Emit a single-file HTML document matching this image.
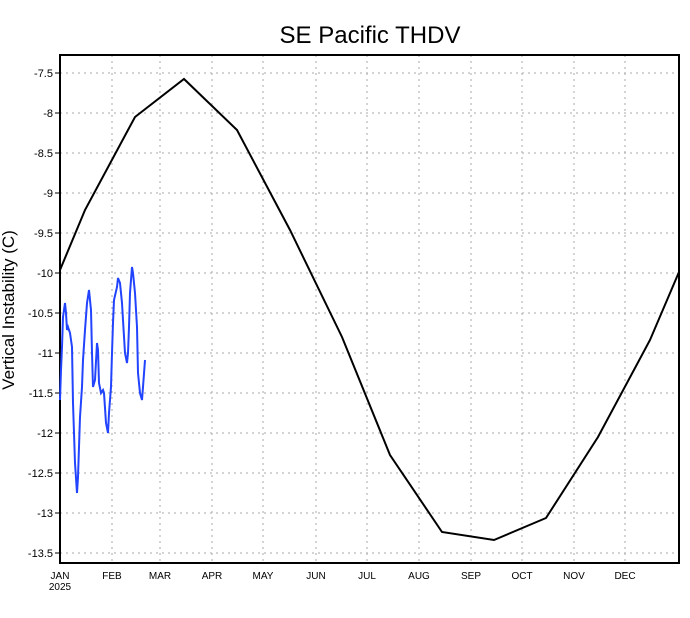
<!DOCTYPE html>
<html><head><style>body{margin:0;background:#fff}svg{display:block}</style></head><body>
<svg width="690" height="618" xmlns="http://www.w3.org/2000/svg" font-family="Liberation Sans, sans-serif">
<rect width="690" height="618" fill="#fff"/>
<text x="370" y="43" font-size="24" text-anchor="middle">SE Pacific THDV</text>
<g stroke="#aaa" stroke-width="1" stroke-dasharray="2,4">
<line x1="60" x2="679" y1="73" y2="73"/><line x1="60" x2="679" y1="113" y2="113"/><line x1="60" x2="679" y1="153" y2="153"/><line x1="60" x2="679" y1="193" y2="193"/><line x1="60" x2="679" y1="233" y2="233"/><line x1="60" x2="679" y1="273" y2="273"/><line x1="60" x2="679" y1="313" y2="313"/><line x1="60" x2="679" y1="353" y2="353"/><line x1="60" x2="679" y1="393" y2="393"/><line x1="60" x2="679" y1="433" y2="433"/><line x1="60" x2="679" y1="473" y2="473"/><line x1="60" x2="679" y1="513" y2="513"/><line x1="60" x2="679" y1="553" y2="553"/>
<line y1="55" y2="563" x1="112" x2="112"/><line y1="55" y2="563" x1="160" x2="160"/><line y1="55" y2="563" x1="212" x2="212"/><line y1="55" y2="563" x1="263" x2="263"/><line y1="55" y2="563" x1="316" x2="316"/><line y1="55" y2="563" x1="367" x2="367"/><line y1="55" y2="563" x1="419" x2="419"/><line y1="55" y2="563" x1="471" x2="471"/><line y1="55" y2="563" x1="522" x2="522"/><line y1="55" y2="563" x1="574" x2="574"/><line y1="55" y2="563" x1="625" x2="625"/>
</g>
<rect x="60" y="55" width="619" height="508" fill="none" stroke="#000" stroke-width="2"/>
<g stroke="#000" stroke-width="1">
<line x1="55" x2="60" y1="73" y2="73"/><line x1="55" x2="60" y1="113" y2="113"/><line x1="55" x2="60" y1="153" y2="153"/><line x1="55" x2="60" y1="193" y2="193"/><line x1="55" x2="60" y1="233" y2="233"/><line x1="55" x2="60" y1="273" y2="273"/><line x1="55" x2="60" y1="313" y2="313"/><line x1="55" x2="60" y1="353" y2="353"/><line x1="55" x2="60" y1="393" y2="393"/><line x1="55" x2="60" y1="433" y2="433"/><line x1="55" x2="60" y1="473" y2="473"/><line x1="55" x2="60" y1="513" y2="513"/><line x1="55" x2="60" y1="553" y2="553"/>
</g>
<g font-size="11" text-anchor="end">
<text x="53" y="77">-7.5</text><text x="53" y="117">-8</text><text x="53" y="157">-8.5</text><text x="53" y="197">-9</text><text x="53" y="237">-9.5</text><text x="53" y="277">-10</text><text x="53" y="317">-10.5</text><text x="53" y="357">-11</text><text x="53" y="397">-11.5</text><text x="53" y="437">-12</text><text x="53" y="477">-12.5</text><text x="53" y="517">-13</text><text x="53" y="557">-13.5</text>
</g>
<g font-size="10" text-anchor="middle">
<text x="60" y="579">JAN</text><text x="60" y="590">2025</text><text x="112" y="579">FEB</text><text x="160" y="579">MAR</text><text x="212" y="579">APR</text><text x="263" y="579">MAY</text><text x="316" y="579">JUN</text><text x="367" y="579">JUL</text><text x="419" y="579">AUG</text><text x="471" y="579">SEP</text><text x="522" y="579">OCT</text><text x="574" y="579">NOV</text><text x="625" y="579">DEC</text>
</g>
<text transform="translate(14,310) rotate(-90)" font-size="17" text-anchor="middle">Vertical Instability (C)</text>
<polyline fill="none" stroke="#000" stroke-width="2" points="60,270 85,210 135,117 184,79 237,130 290,230 342,337 390,455 442,532 494,540 546,518 598,437 650,340 679,272"/>
<polyline fill="none" stroke="#2244ff" stroke-width="2" points="60,400 61,370 62,347 63,317 65,303 66,313 67,330 68,327 70,333 72,347 73,403 74,433 75,463 77,493 78,477 79,447 80,417 82,387 83,360 85,330 87,303 89,290 91,310 92,353 93,387 95,380 97,343 98,350 99,383 101,393 103,390 104,393 106,423 108,433 109,413 111,387 112,353 113,323 114,300 117,287 118,278 120,283 122,303 123,320 125,353 127,363 128,353 129,327 130,293 132,267 133,273 135,293 137,327 138,373 140,393 142,400 143,387 145,360"/>
</svg>
</body></html>
